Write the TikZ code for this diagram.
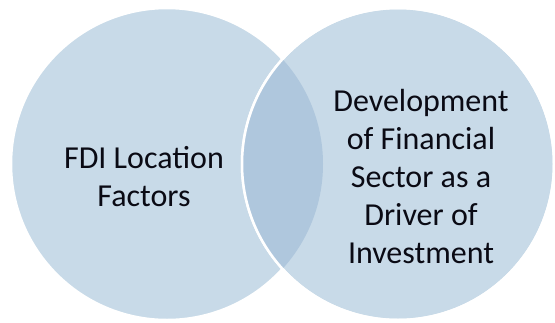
\documentclass[tikz,border=0pt]{standalone}
\usepackage{fontspec}
\setmainfont{Carlito}
\definecolor{vfill}{RGB}{200,218,232}
\definecolor{vover}{RGB}{175,199,221}
\definecolor{vtext}{RGB}{10,10,20}
\begin{document}
\begin{tikzpicture}[x=1pt,y=-1pt,
  venn/.style={circle,minimum size=312pt,inner sep=0pt,fill=vfill,draw=white,line width=2.5pt},
  lbl/.style={align=center,text=vtext,font=\fontsize{32}{38}\selectfont,inner sep=0pt}]
\fill[white] (0,0) rectangle (555,322);
\useasboundingbox (0,0) rectangle (555,322);
\node[venn] (L) at (167,164) {};
\node[venn] (R) at (398,164) {};
\begin{scope}
  \clip (L.center) circle[radius=156pt];
  \fill[vover] (R.center) circle[radius=156pt];
\end{scope}
\draw[white,line width=2.5pt] (R.center) circle[radius=156pt];
\node[lbl] (lt) at (144,177) {FDI Location\\Factors};
\node[lbl] (rt) at (421,177) {Development\\of Financial\\Sector as a\\Driver of\\Investment};
\end{tikzpicture}
\end{document}
